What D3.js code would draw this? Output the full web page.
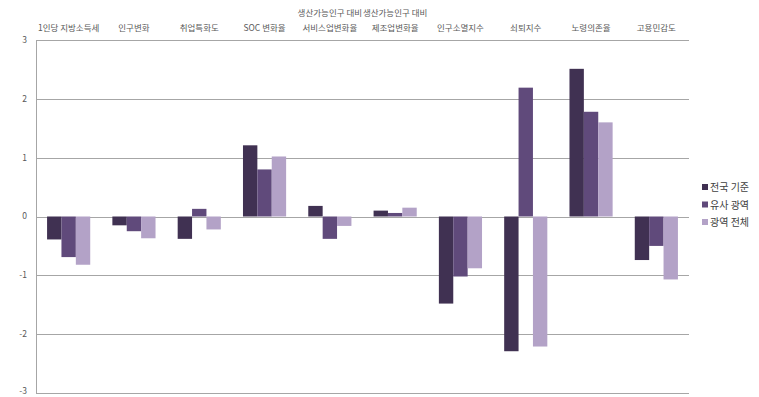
<!DOCTYPE html>
<html>
<head>
<meta charset="utf-8">
<script src="https://cdn.jsdelivr.net/npm/d3@7"></script>
<style>
    body { margin: 0; background: #fff; }
    text { font-family: "Noto Sans CJK KR", sans-serif; fill: #595959; }
</style>
</head>
<body>
<svg></svg>
<script>

const categories = [
    ["1인당 지방소득세"],
    ["인구변화"],
    ["취업특화도"],
    ["SOC 변화율"],
    ["생산가능인구 대비", "서비스업변화율"],
    ["생산가능인구 대비", "제조업변화율"],
    ["인구소멸지수"],
    ["쇠퇴지수"],
    ["노령의존율"],
    ["고용민감도"]
]

const seriesNames = ["전국 기준", "유사 광역", "광역 전체"]

const national = [-0.39, -0.15, -0.38, 1.21, 0.18, 0.10, -1.48, -2.29, 2.51, -0.74]
const similar = [-0.69, -0.25, 0.13, 0.80, -0.38, 0.06, -1.02, 2.19, 1.78, -0.50]
const regional = [-0.82, -0.37, -0.22, 1.02, -0.16, 0.15, -0.88, -2.21, 1.60, -1.07]

const yTicks = [-3, -2, -1, 0, 1, 2, 3]

const colors = ["#403152", "#604a7b", "#b3a2c7"]

const width = 759
const height = 397

const svg = d3.select("svg")
    .attr("width", width)
    .attr("height", height)

const plotLeft = 36
const plotRight = 689

const y = d3.scaleLinear()
    .domain([-3, 3])
    .range([393, 40])

const x0 = d3.scaleBand()
    .domain(d3.range(categories.length))
    .range([plotLeft, plotRight])

const x1 = d3.scaleBand()
    .domain(d3.range(seriesNames.length))
    .range([0, x0.bandwidth()])
    .paddingOuter(0.77)

// gridlines
svg.append("g")
    .selectAll("line")
    .data(yTicks)
    .enter()
    .append("line")
    .attr("x1", plotLeft)
    .attr("x2", plotRight)
    .attr("y1", d => Math.round(y(d)) + 0.5)
    .attr("y2", d => Math.round(y(d)) + 0.5)
    .style("stroke", "#a6a6a6")
    .style("stroke-width", 1)

// y axis line
svg.append("line")
    .attr("x1", plotLeft + 0.5)
    .attr("x2", plotLeft + 0.5)
    .attr("y1", y(3))
    .attr("y2", y(-3))
    .style("stroke", "#a6a6a6")

// y labels
svg.append("g")
    .selectAll("text")
    .data(yTicks)
    .enter()
    .append("text")
    .attr("x", 27)
    .attr("y", d => d === -3 ? y(d) - 2 : y(d))
    .attr("dy", "0.35em")
    .attr("text-anchor", "end")
    .style("font-size", "8.5px")
    .text(d => d)

const allSeries = [national, similar, regional]

const groups = svg.append("g")
    .selectAll("g")
    .data(categories)
    .enter()
    .append("g")
    .attr("transform", (d, i) => `translate(${x0(i)}, 0)`)

groups.selectAll("rect")
    .data((d, i) => allSeries.map((s, j) => ({ series: j, value: s[i] })))
    .enter()
    .append("rect")
    .attr("x", d => x1(d.series))
    .attr("width", x1.bandwidth())
    .attr("y", d => y(Math.max(0, d.value)))
    .attr("height", d => Math.abs(y(d.value) - y(0)))
    .style("fill", d => colors[d.series])

// category labels on top
groups.each(function (d, i) {
    const t = d3.select(this)
        .append("text")
        .attr("x", x0.bandwidth() / 2)
        .attr("text-anchor", "middle")
        .style("font-size", "8.5px")
    d.forEach((line, k) => {
        t.append("tspan")
            .attr("x", x0.bandwidth() / 2)
            .attr("y", 31 - (d.length - 1 - k) * 15)
            .text(line)
    })
})

// legend
const legend = svg.append("g")
    .selectAll("g")
    .data(seriesNames)
    .enter()
    .append("g")
    .attr("transform", (d, i) => `translate(702, ${187 + i * 17.5})`)

legend.append("rect")
    .attr("x", 0)
    .attr("y", -3)
    .attr("width", 6)
    .attr("height", 6)
    .style("fill", (d, i) => colors[i])

legend.append("text")
    .attr("x", 8)
    .attr("y", 4)
    .style("font-size", "10px")
    .style("fill", "#404040")
    .text(d => d)

</script>
</body>
</html>
